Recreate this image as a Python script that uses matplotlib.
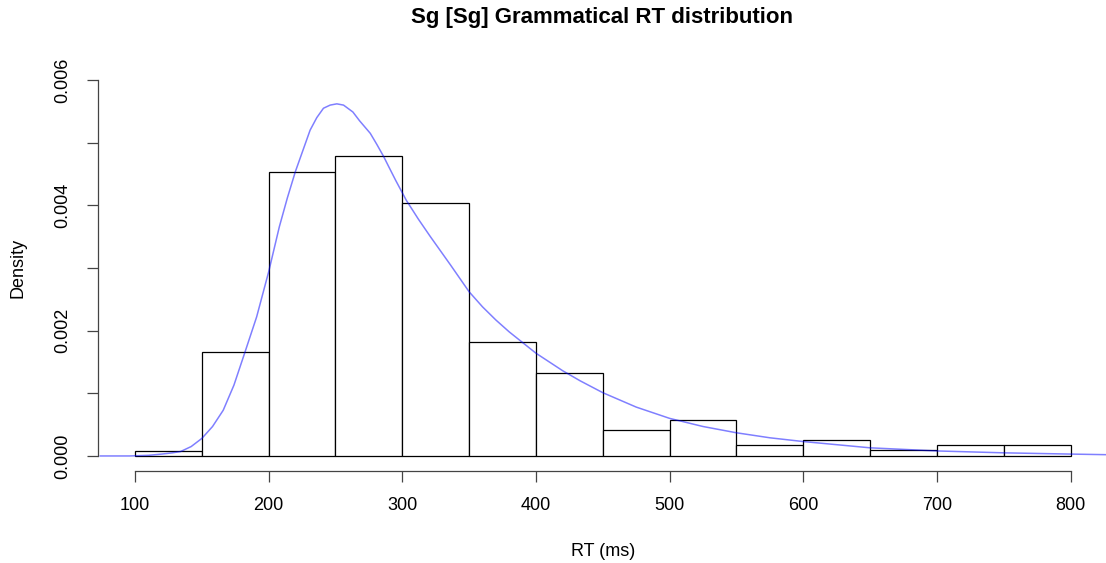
import matplotlib.pyplot as plt

plt.rcParams['font.family'] = ['Liberation Sans', 'DejaVu Sans']

# histogram data (density per 50 ms bin)
bin_left = [100, 150, 200, 250, 300, 350, 400, 450, 500, 550, 600, 650, 700, 750]
bin_density = [0.000085, 0.00166, 0.00453, 0.00479, 0.00404, 0.00182, 0.00132,
               0.00041, 0.00057, 0.000176, 0.00025, 0.0001, 0.000176, 0.000176]
bin_width = 50

# density curve
curve_x = [74, 96, 110, 120, 128, 134, 142, 150, 158, 166, 174, 182, 191, 200, 208,
           214, 220, 226, 231, 236, 241, 246, 251, 256, 263, 268, 276, 281, 286,
           290, 295, 303, 312, 321, 336, 350, 360, 370, 380, 390, 400, 410, 420,
           433, 450, 475, 500, 525, 550, 575, 600, 650, 700, 750, 800, 828]
curve_y = [0, 0, 0.00001, 0.00003, 0.00005, 0.00007, 0.00015, 0.00028, 0.00047,
           0.00073, 0.00113, 0.00164, 0.00222, 0.00294, 0.00366, 0.00412, 0.00454,
           0.0049, 0.0052, 0.0054, 0.00555, 0.0056, 0.00562, 0.0056, 0.00549,
           0.00535, 0.00515, 0.00497, 0.00478, 0.00461, 0.0044, 0.00408, 0.00378,
           0.0035, 0.00305, 0.00262, 0.00238, 0.00217, 0.00198, 0.00181, 0.00164,
           0.0015, 0.00136, 0.0012, 0.00101, 0.00078, 0.0006, 0.00047, 0.00037,
           0.00029, 0.00023, 0.00013, 0.00008, 0.00005, 0.00003, 0.00002]

x_ticks = [100, 200, 300, 400, 500, 600, 700, 800]
y_ticks = [0, 0.001, 0.002, 0.003, 0.004, 0.005, 0.006]
y_labels = ['0.000', '', '0.002', '', '0.004', '', '0.006']

W, H = 1106, 563
fig = plt.figure(figsize=(W / 100, H / 100), dpi=100)
ax = fig.add_axes([97.6 / W, 1 - 471 / H, (1108 - 97.6) / W, (471 - 65) / H])

ax.bar(bin_left, bin_density, width=bin_width, align='edge',
       facecolor='white', edgecolor='black', linewidth=0.9)
ax.plot(curve_x, curve_y, color='blue', alpha=0.5, linewidth=1.1)

ax.set_xlim(72, 828)
ax.set_ylim(-0.00024, 0.00624)

# R-like axes: lines only between first and last tick
for s in ['top', 'right']:
    ax.spines[s].set_visible(False)
ax.spines['bottom'].set_bounds(100, 800)
ax.spines['left'].set_bounds(0, 0.006)
for s in ['bottom', 'left']:
    ax.spines[s].set_linewidth(0.9)
    ax.spines[s].set_color('#444444')

ax.set_xticks(x_ticks)
ax.set_xticklabels([str(t) for t in x_ticks])
ax.set_yticks(y_ticks)
ax.set_yticklabels(y_labels, rotation=90, va='center')
ax.tick_params(axis='both', length=7.9, width=0.9, color='#444444',
               labelsize=13, pad=11)

fig.text(602 / W, 1 - 18 / H, 'Sg [Sg] Grammatical RT distribution',
         ha='center', va='center', fontsize=16, fontweight='bold')
fig.text(603 / W, 1 - 551 / H, 'RT (ms)', ha='center', va='center', fontsize=13)
fig.text(18 / W, 1 - 268 / H, 'Density', ha='center', va='center',
         rotation=90, fontsize=13)

fig.savefig('out.png', dpi=100)
